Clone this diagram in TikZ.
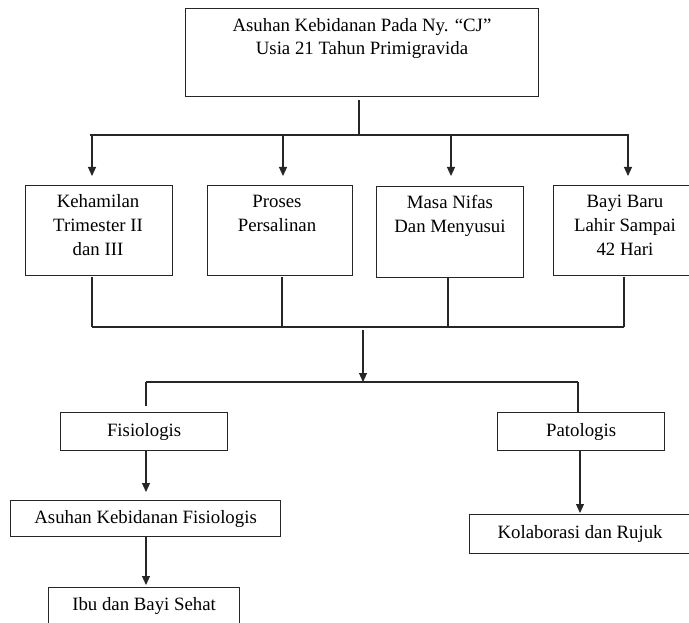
\documentclass[tikz,border=0pt]{standalone}
\usepackage{fontspec}
\setmainfont{Liberation Serif}
\usetikzlibrary{arrows.meta}
\begin{document}
\begin{tikzpicture}[x=1pt,y=-1pt,
  ln/.style={draw=black!85, line width=1.1pt},
  arr/.style={ln, -{Triangle[width=8pt,length=9pt]}},
  box/.style={draw=black!85, line width=1.2pt, anchor=north west, inner sep=0pt, font=\fontsize{18.8}{23.6}\selectfont},
  txt/.style={font=\fontsize{18.8}{23.6}\selectfont, align=center, anchor=base, inner sep=0pt}]
\clip (0,0) rectangle (689,623);
\fill[white] (0,0) rectangle (689,623);

% boxes (text nodes are placed by the baseline of their last line)
\node[box, minimum width=353pt, minimum height=88pt] (top) at (185,8) {};
\node[txt] (topt) at (362,55) {Asuhan Kebidanan Pada Ny. “CJ”\\Usia 21 Tahun Primigravida};

\node[box, minimum width=147pt, minimum height=90pt] (k1) at (25,185) {};
\node[txt] (k1t) at (98,255) {Kehamilan\\Trimester II\\dan III};
\node[box, minimum width=145pt, minimum height=90pt] (k2) at (207,185) {};
\node[txt] (k2t) at (277,231.6) {Proses\\Persalinan};
\node[box, minimum width=147pt, minimum height=91pt] (k3) at (376,186) {};
\node[txt] (k3t) at (450,232.6) {Masa Nifas\\Dan Menyusui};
\node[box, minimum width=150pt, minimum height=90pt] (k4) at (553,185) {};
\node[txt] (k4t) at (625,255) {Bayi Baru\\Lahir Sampai\\42 Hari};

\node[box, minimum width=167pt, minimum height=38pt] (fis) at (60,412) {Fisiologis};
\node[box, minimum width=167pt, minimum height=38pt] (pat) at (497,412) {Patologis};
\node[box, minimum width=270pt, minimum height=36pt] (akf) at (10,500) {Asuhan Kebidanan Fisiologis};
\node[box, minimum width=191pt, minimum height=37pt] (ibu) at (48,587) {Ibu dan Bayi Sehat};
\node[box, minimum width=221pt, minimum height=39pt] (kol) at (469,514) {Kolaborasi dan Rujuk};

% top bus
\coordinate (busA) at (359,135);
\coordinate (busAL) at (90,135);
\coordinate (busAR) at (629,135);
\coordinate (topo) at (359,100);
\draw[ln] (topo) -- (busA);
\draw[ln] (busAL) -- (busAR);
\coordinate (in1) at (92,176);
\coordinate (in2) at (283,176);
\coordinate (in3) at (451,176);
\coordinate (in4) at (628,176);
\draw[arr] (in1 |- busA) -- (in1);
\draw[arr] (in2 |- busA) -- (in2);
\draw[arr] (in3 |- busA) -- (in3);
\draw[arr] (in4 |- busA) -- (in4);

% middle bus
\coordinate (busB) at (363,327);
\coordinate (o1) at (92,277);
\coordinate (o2) at (282,277);
\coordinate (o3) at (448,278);
\coordinate (o4) at (624,277);
\draw[ln] (o1) -- (o1 |- busB);
\draw[ln] (o2) -- (o2 |- busB);
\draw[ln] (o3) -- (o3 |- busB);
\draw[ln] (o4) -- (o4 |- busB);
\draw[ln] (o1 |- busB) -- (o4 |- busB);
\coordinate (busBo) at (363,330);
\coordinate (busC) at (363,382);
\draw[arr] (busBo) -- (busC);

% lower bus
\coordinate (cL) at (146,382);
\coordinate (cR) at (578,382);
\coordinate (fisin) at (146,406);
\draw[ln] (cL) -- (cR);
\draw[ln] (cL) -- (fisin);
\draw[ln] (cR) -- (cR |- pat.north);

\coordinate (a1) at (146,492);
\coordinate (a2) at (146,585);
\coordinate (a3) at (580,513);
\draw[arr] (fis.south -| a1) -- (a1);
\draw[arr] (akf.south -| a2) -- (a2);
\draw[arr] (pat.south -| a3) -- (a3);
\end{tikzpicture}
\end{document}
